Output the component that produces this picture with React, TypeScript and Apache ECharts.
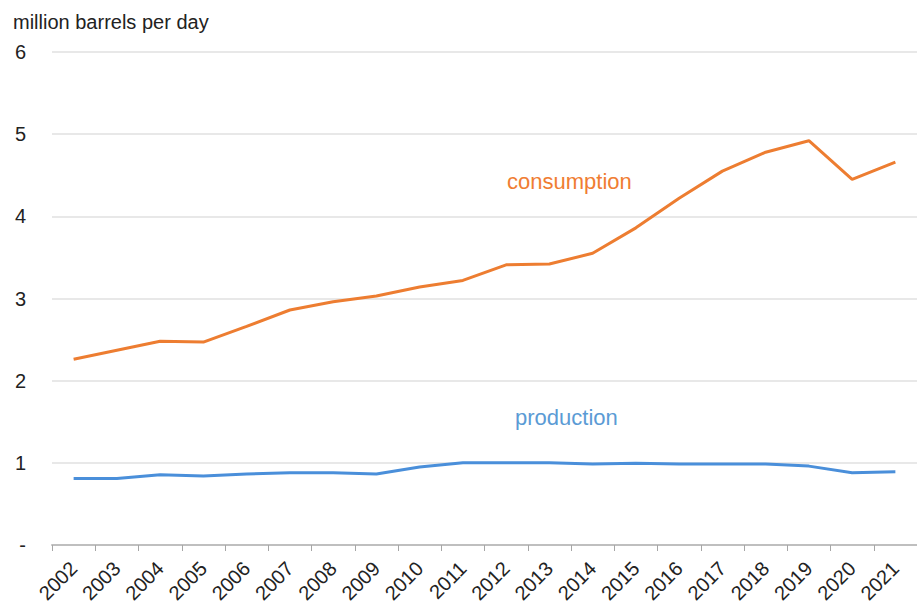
import React, { useEffect, useRef } from "react";
import * as echarts from "echarts";

const years = ["2002","2003","2004","2005","2006","2007","2008","2009","2010","2011","2012","2013","2014","2015","2016","2017","2018","2019","2020","2021"];
const consumption = [2.26, 2.37, 2.48, 2.47, 2.66, 2.86, 2.96, 3.03, 3.14, 3.22, 3.41, 3.42, 3.55, 3.86, 4.22, 4.55, 4.78, 4.92, 4.45, 4.66];
const production = [0.81, 0.81, 0.855, 0.84, 0.865, 0.88, 0.88, 0.865, 0.95, 1.0, 1.0, 1.0, 0.985, 0.995, 0.985, 0.985, 0.985, 0.96, 0.88, 0.89];
const yTicks = [0, 1, 2, 3, 4, 5, 6];

const FONT = "Liberation Sans, Arial, sans-serif";

export default function App() {
  const ref = useRef<HTMLDivElement>(null);
  useEffect(() => {
    if (!ref.current) return;
    const chart = echarts.init(ref.current, null, { renderer: "svg" });
    chart.setOption({
      animation: false,
      backgroundColor: "#ffffff",
      textStyle: { fontFamily: FONT },
      grid: { left: 52, top: 52, height: 493, width: 873 },
      graphic: [
        { type: "text", left: 13, top: 12, style: { text: "million barrels per day", fontSize: 20, fontFamily: FONT, fill: "#222" } },
        { type: "text", left: 507, top: 170, style: { text: "consumption", fontSize: 22, fontFamily: FONT, fill: "#F07D32" } },
        { type: "text", left: 515, top: 406, style: { text: "production", fontSize: 22, fontFamily: FONT, fill: "#5B9BD5" } },
      ],
      xAxis: {
        type: "category",
        data: years,
        boundaryGap: true,
        axisLine: { lineStyle: { color: "#bfbfbf", width: 2 } },
        axisTick: { show: true, length: 6, lineStyle: { color: "#a6a6a6", width: 1 } },
        axisLabel: { rotate: 45, fontSize: 20, color: "#222", margin: 20, interval: 0 },
      },
      yAxis: {
        type: "value",
        min: yTicks[0],
        max: yTicks[yTicks.length - 1],
        interval: 1,
        axisLine: { show: false },
        axisTick: { show: false },
        splitLine: { lineStyle: { color: "#e0e0e0", width: 1.5 } },
        axisLabel: {
          fontSize: 20,
          color: "#222",
          margin: 26,
          formatter: (v: number) => (v === 0 ? "-" : String(v)),
        },
      },
      series: [
        {
          name: "consumption",
          type: "line",
          data: consumption,
          symbol: "none",
          lineStyle: { color: "#ED7D31", width: 3 },
        },
        {
          name: "production",
          type: "line",
          data: production,
          symbol: "none",
          lineStyle: { color: "#4A8FDA", width: 3 },
        },
      ],
    });
    return () => chart.dispose();
  }, []);
  return <div ref={ref} style={{ width: 917, height: 611, position: "absolute", left: 0, top: 0 }} />;
}
